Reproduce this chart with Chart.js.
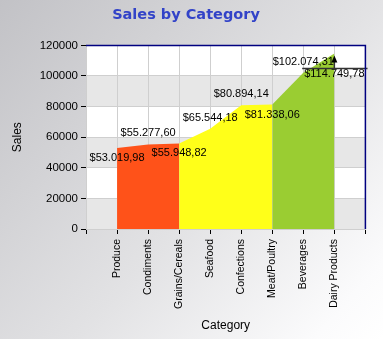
<!DOCTYPE html>
<html>
<head>
<meta charset="utf-8">
<script src="https://cdn.jsdelivr.net/npm/chart.js@4.4.1/dist/chart.umd.min.js"></script>
<style>
  html, body { margin: 0; padding: 0; }
</style>
</head>
<body>
<canvas id="myChart" width="383" height="339"></canvas>
<script>
var categories = ["Produce", "Condiments", "Grains/Cereals", "Seafood", "Confections", "Meat/Poultry", "Beverages", "Dairy Products"];
var sales = [53019.98, 55277.60, 55948.82, 65544.18, 80894.14, 81338.06, 102074.31, 114749.78];
var yTicks = [0, 20000, 40000, 60000, 80000, 100000, 120000];

// fill colour of the segment that starts at each point
var segmentColors = ['#ff5219', '#ff5219', '#ffff19', '#ffff19', '#ffff19', '#9acd32', '#9acd32'];
// where each value label goes relative to its point
var labelSide = ['below', 'above', 'below', 'above', 'above', 'below', 'above', 'callout'];

function money(v) {
  var parts = v.toFixed(2).split('.');
  return '$' + parts[0].replace(/\B(?=(\d{3})+(?!\d))/g, '.') + ',' + parts[1];
}

var backdrop = {
  id: 'backdrop',
  beforeDraw: function(chart) {
    var ctx = chart.ctx, a = chart.chartArea, y = chart.scales.y;
    ctx.save();
    var g = ctx.createLinearGradient(0, 0, chart.width, chart.height);
    g.addColorStop(0, '#c2c2c6');
    g.addColorStop(0.55, '#e2e2e4');
    g.addColorStop(0.9, '#fbfbfc');
    g.addColorStop(1, '#ffffff');
    ctx.fillStyle = g;
    ctx.fillRect(0, 0, chart.width, chart.height);
    // alternating bands between the y ticks
    for (var i = 0; i < yTicks.length - 1; i++) {
      var y0 = y.getPixelForValue(yTicks[i]);
      var y1 = y.getPixelForValue(yTicks[i + 1]);
      ctx.fillStyle = (i % 2 === 0) ? '#e7e7e7' : '#ffffff';
      ctx.fillRect(a.left, y1, a.right - a.left, y0 - y1);
    }
    ctx.restore();
  },
  afterDraw: function(chart) {
    var ctx = chart.ctx, a = chart.chartArea;
    ctx.save();
    ctx.strokeStyle = '#000080';
    ctx.lineWidth = 1.5;
    ctx.beginPath();
    ctx.moveTo(a.left, a.top);
    ctx.lineTo(a.right, a.top);
    ctx.lineTo(a.right, a.bottom);
    ctx.stroke();
    ctx.restore();
  }
};

var valueLabels = {
  id: 'valueLabels',
  afterDatasetsDraw: function(chart) {
    var ctx = chart.ctx;
    var pts = chart.getDatasetMeta(0).data;
    ctx.save();
    ctx.font = '11px "Liberation Sans", Arial, sans-serif';
    ctx.fillStyle = '#000';
    ctx.textAlign = 'center';
    ctx.textBaseline = 'middle';
    pts.forEach(function(p, i) {
      var text = money(sales[i]);
      var side = labelSide[i];
      if (side === 'above') {
        ctx.fillText(text, p.x, p.y - 11);
      } else if (side === 'below') {
        ctx.fillText(text, p.x, p.y + 10);
      } else {
        var w = ctx.measureText(text).width;
        ctx.fillText(text, p.x, p.y + 21);
        ctx.strokeStyle = '#333';
        ctx.lineWidth = 1.5;
        ctx.beginPath();
        ctx.moveTo(p.x - w / 2 - 2, p.y + 15);
        ctx.lineTo(p.x + w / 2 + 3, p.y + 15);
        ctx.moveTo(p.x, p.y + 15);
        ctx.lineTo(p.x, p.y + 6);
        ctx.stroke();
        ctx.beginPath();
        ctx.moveTo(p.x, p.y + 2);
        ctx.lineTo(p.x - 3, p.y + 9);
        ctx.lineTo(p.x + 3, p.y + 9);
        ctx.closePath();
        ctx.fillStyle = '#000';
        ctx.fill();
      }
    });
    ctx.restore();
  }
};

var tickFont = { family: '"Liberation Sans", Arial, sans-serif', size: 11.5 };

var chart = new Chart('myChart', {
  type: 'line',
  data: {
    datasets: [{
      data: sales.map(function(v, i) { return { x: i, y: v }; }),
      fill: 'origin',
      borderWidth: 0,
      borderColor: 'rgba(0,0,0,0)',
      pointRadius: 0,
      backgroundColor: segmentColors[0],
      segment: {
        backgroundColor: function(c) { return segmentColors[c.p0DataIndex]; }
      }
    }]
  },
  options: {
    responsive: false,
    animation: false,
    devicePixelRatio: 1,
    layout: { padding: { left: 0, right: 11, top: 0, bottom: 0 } },
    plugins: {
      legend: { display: false },
      tooltip: { enabled: false },
      title: {
        display: true,
        text: 'Sales by Category',
        color: '#3243c8',
        font: { family: '"DejaVu Sans", Verdana, sans-serif', size: 14.5, weight: 'bold' },
        padding: { top: 7, bottom: 21 }
      }
    },
    scales: {
      x: {
        type: 'linear',
        min: -1,
        max: 8,
        afterFit: function(s) { s.height = 110; },
        ticks: {
          stepSize: 1,
          autoSkip: false,
          minRotation: 90,
          maxRotation: 90,
          color: '#000',
          padding: 5,
          font: { family: '"Liberation Sans", Arial, sans-serif', size: 10.5 },
          callback: function(v) { return categories[v] || ''; }
        },
        grid: { color: '#cfcfcf', tickColor: '#000', tickLength: 5 },
        border: { color: '#cfcfcf' },
        title: {
          display: true,
          text: 'Category',
          color: '#000',
          font: { family: '"Liberation Sans", Arial, sans-serif', size: 12 },
          padding: { top: 0, bottom: 6 }
        }
      },
      y: {
        min: 0,
        max: 120000,
        afterFit: function(s) { s.width = 86; },
        afterBuildTicks: function(s) { s.ticks = yTicks.map(function(v) { return { value: v }; }); },
        ticks: { color: '#000', padding: 3, font: tickFont, callback: function(v) { return String(v); } },
        grid: { color: '#cfcfcf', tickColor: '#000', tickLength: 5 },
        border: { display: false },
        title: {
          display: true,
          text: 'Sales',
          color: '#000',
          font: { family: '"Liberation Sans", Arial, sans-serif', size: 12 },
          padding: { top: 10, bottom: 0 }
        }
      }
    }
  },
  plugins: [backdrop, valueLabels]
});
</script>
</body>
</html>
